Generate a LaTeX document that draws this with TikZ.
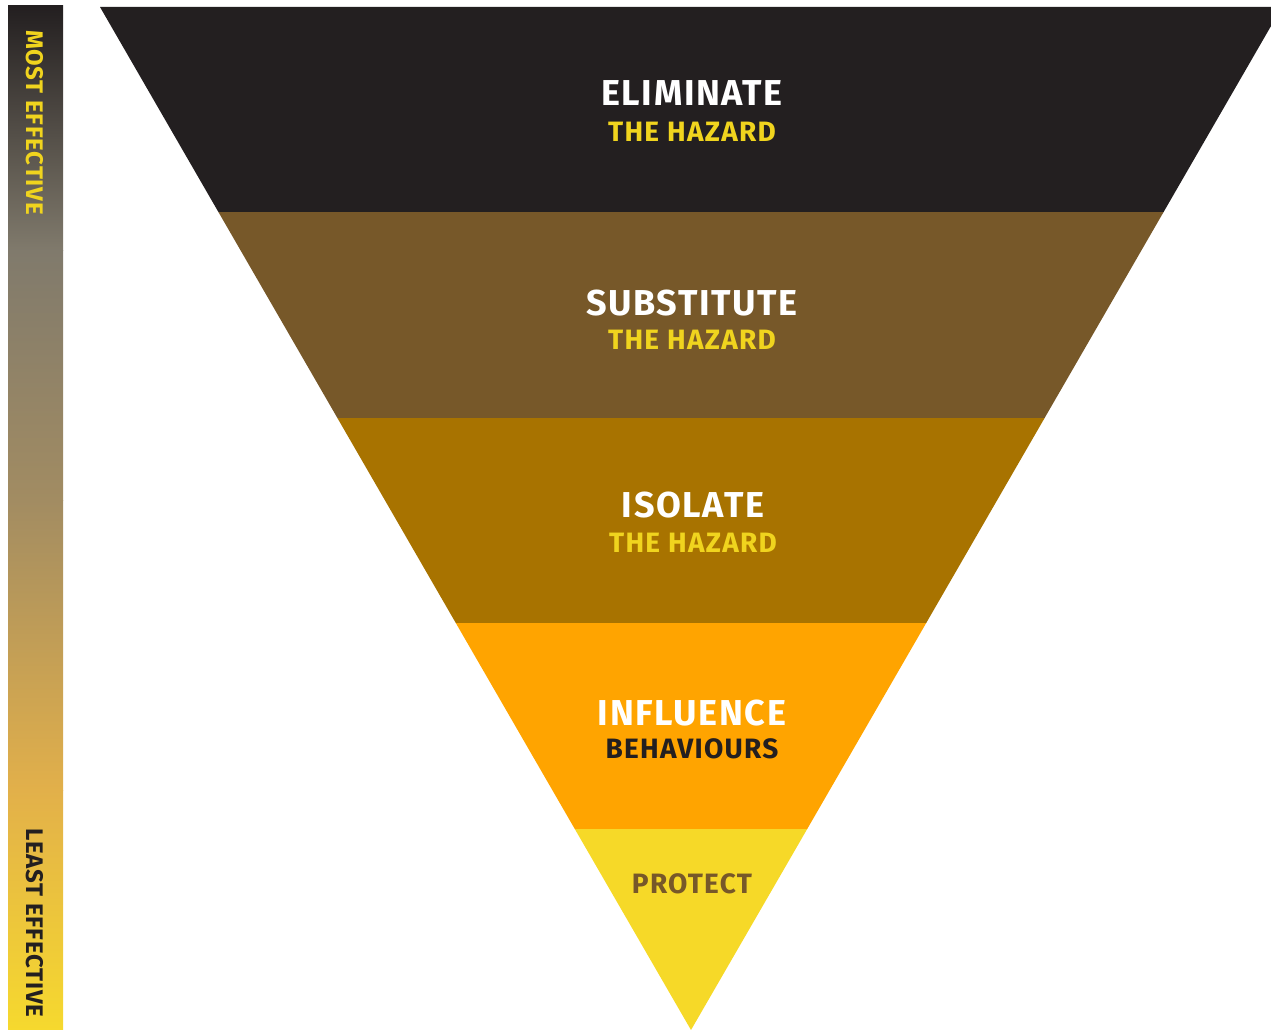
\documentclass[tikz,border=0pt]{standalone}
\usepackage{fontspec}
\setmainfont{Fira Sans}
\newfontfamily\dinfont[LetterSpace=4.5]{Fira Sans}
\newfontfamily\dinside[LetterSpace=3.2]{Fira Sans}
\begin{document}
\begin{tikzpicture}[x=1pt,y=-1pt,
  bigtxt/.style={anchor=base,font=\dinfont\fontsize{36}{36}\selectfont\bfseries,text=white,inner sep=0pt},
  subtxt/.style={anchor=base,font=\dinfont\fontsize{28}{28}\selectfont\bfseries,inner sep=0pt},
  sidetxt/.style={font=\dinside\fontsize{24}{24}\selectfont\bfseries,inner sep=0pt,rotate=-90}]
\definecolor{cblack}{HTML}{231F20}
\definecolor{cbrown}{HTML}{775829}
\definecolor{cgold}{HTML}{A87300}
\definecolor{corange}{HTML}{FFA400}
\definecolor{cyellow}{HTML}{F6D928}
\definecolor{tyellow}{HTML}{F0D41E}
\definecolor{g1}{HTML}{807A6C}
\definecolor{g2}{HTML}{A28C62}
\definecolor{g3}{HTML}{E2B04A}
\definecolor{g4}{HTML}{F6D92E}
\useasboundingbox (0,0) rectangle (1271,1030);
\begin{scope}
\clip (0,0) rectangle (1271,1030);
% bands of the inverted triangle (top half-width 591, apex at 691,1030)
\fill[cblack]  (100,7) -- (1282,7) -- (1163.6,212) -- (218.4,212) -- cycle;
\fill[cbrown]  (218.4,212) -- (1163.6,212) -- (1044.6,418) -- (337.4,418) -- cycle;
\fill[cgold]   (337.4,418) -- (1044.6,418) -- (926.2,623) -- (455.8,623) -- cycle;
\fill[corange] (455.8,623) -- (926.2,623) -- (807.2,829) -- (574.8,829) -- cycle;
\fill[cyellow] (574.8,829) -- (807.2,829) -- (691,1030) -- cycle;
\end{scope}
% gradient bar
\shade[top color=cblack,bottom color=g1] (8,6) rectangle (63,250.5);
\shade[top color=g1,bottom color=g2] (8,250) rectangle (63,500.5);
\shade[top color=g2,bottom color=g3] (8,500) rectangle (63,790.5);
\shade[top color=g3,bottom color=g4] (8,790) rectangle (63,1030);
\node[sidetxt,text=tyellow,anchor=west] (most) at (35,30) {MOST EFFECTIVE};
\node[sidetxt,text=cblack,anchor=west] (least) at (35,828) {LEAST EFFECTIVE};
% labels
\node[bigtxt] (elim) at (692,106) {ELIMINATE};
\node[subtxt,text=tyellow] (h1) at (692,142) {THE HAZARD};
\node[bigtxt] (subs) at (692,315) {SUBSTITUTE};
\node[subtxt,text=tyellow] (h2) at (692,349) {THE HAZARD};
\node[bigtxt] (iso) at (693,517) {ISOLATE};
\node[subtxt,text=tyellow] (h3) at (693,552) {THE HAZARD};
\node[bigtxt] (infl) at (692,725) {INFLUENCE};
\node[subtxt,text=cblack] (beh) at (692,758) {BEHAVIOURS};
\node[subtxt,text=cbrown] (prot) at (692,893) {PROTECT};
\end{tikzpicture}
\end{document}
